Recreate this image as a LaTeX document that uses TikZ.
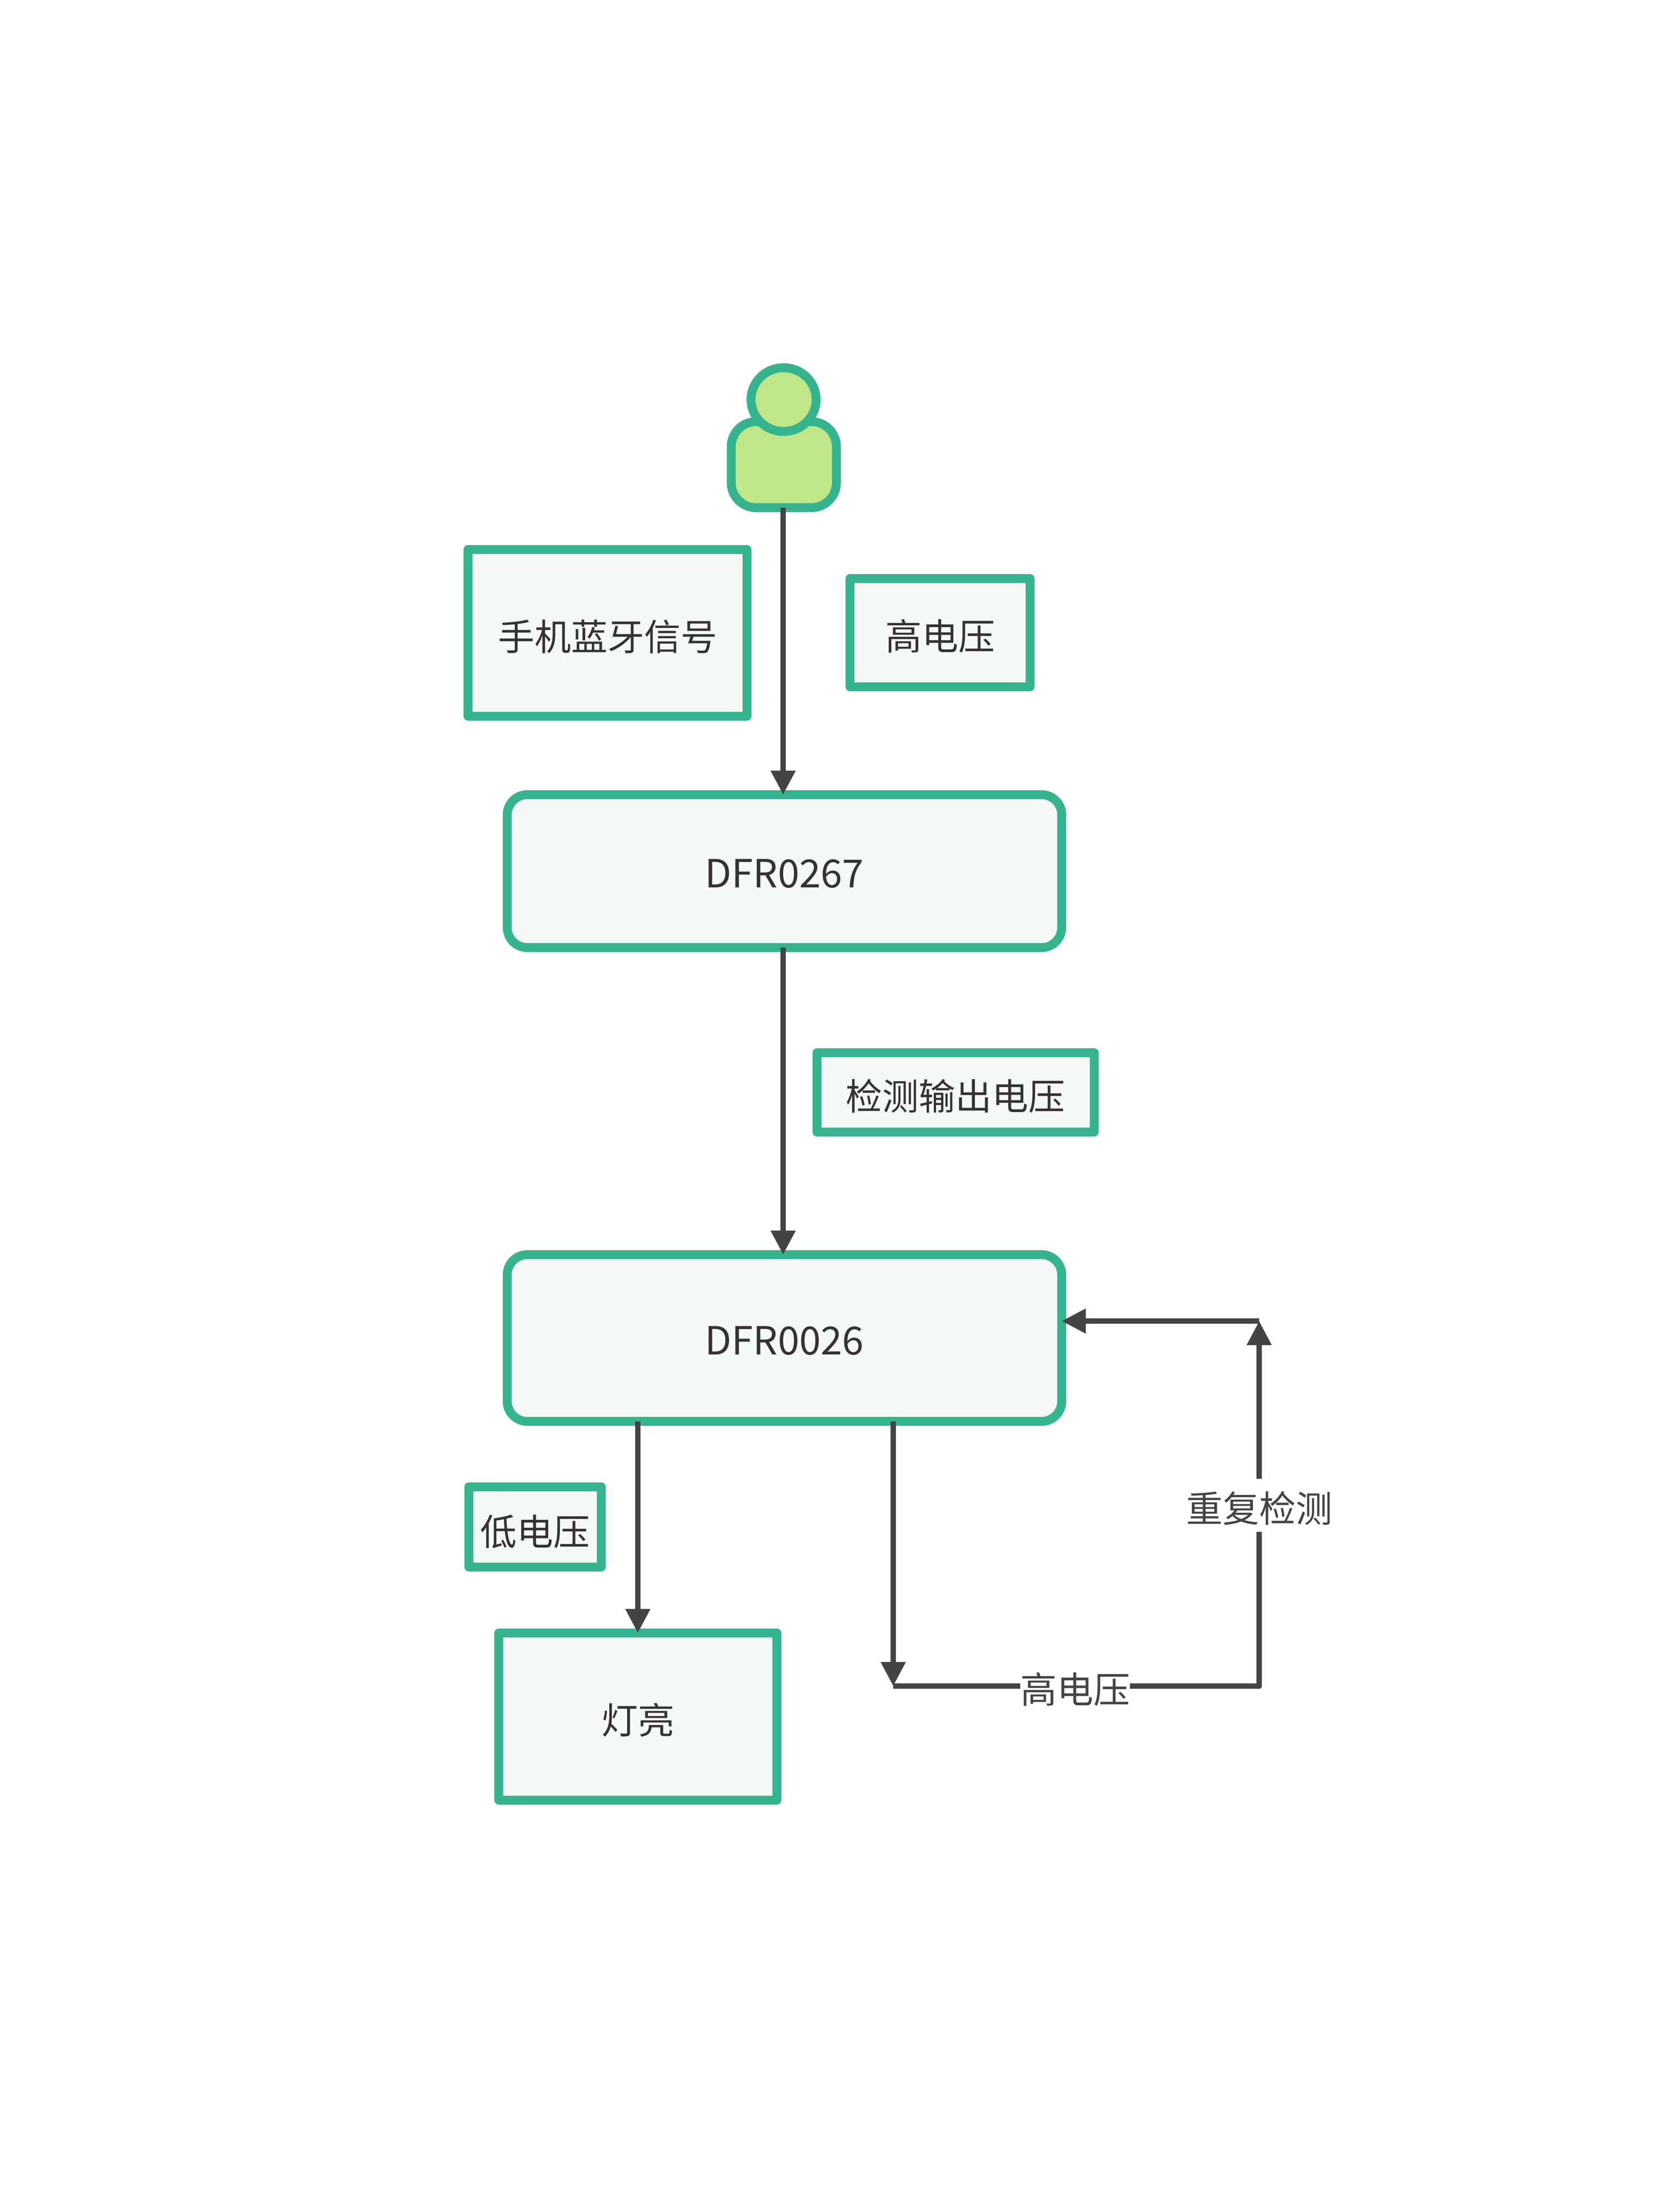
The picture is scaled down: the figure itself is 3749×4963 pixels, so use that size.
\documentclass[tikz,border=0pt]{standalone}
\usepackage{fontspec}
\setmainfont{Noto Sans CJK SC}
\usetikzlibrary{arrows.meta,calc,shapes.geometric}
\definecolor{grn}{HTML}{36B48F}
\definecolor{boxfill}{HTML}{F4F8F7}
\definecolor{personfill}{HTML}{BFE687}
\definecolor{linec}{HTML}{444444}
\definecolor{txtc}{HTML}{333333}
\newcommand{\lowered}[2][8pt]{\raisebox{-\dimexpr31pt+#1\relax}[0pt][0pt]{#2}}
\tikzset{
  lbl/.style={font=\fontsize{82pt}{90pt}\selectfont,text=txtc,inner sep=0pt,outer sep=0pt},
  sqbox/.style={lbl,draw=grn,fill=boxfill,line width=20pt,line join=round},
  rndbox/.style={lbl,draw=grn,fill=boxfill,line width=20pt,rounded corners=45pt},
  pers/.style={draw=grn,fill=personfill,line width=20pt,outer sep=0pt},
  conn/.style={draw=linec,line width=12pt},
  arr/.style={conn,-{Triangle[width=53pt,length=54pt]}},
  edgelbl/.style={font=\fontsize{82pt}{90pt}\selectfont,text=linec,fill=white,inner sep=0pt,outer sep=0pt}
}
\begin{document}
\begin{tikzpicture}[x=1pt,y=-1pt]
\useasboundingbox[fill=white] (0,0) rectangle (3749,4963);
\node[pers,rounded corners=56pt,inner sep=0pt,minimum width=236pt,minimum height=193pt] (body) at (1758.5,1042.5) {};
\node[pers,shape=ellipse,inner sep=0pt,minimum width=146pt,minimum height=143pt] (head) at (1758,896.5) {};
\node[sqbox,minimum width=626pt,minimum height=374pt] (sig) at (1363,1420) {\lowered{手机蓝牙信号}};
\node[sqbox,minimum width=404pt,minimum height=243pt] (hv) at (2109,1419.5) {\lowered{高电压}};
\node[rndbox,minimum width=1244pt,minimum height=343pt] (dfra) at (1760,1954.5) {\lowered[6pt]{\fontsize{87pt}{90pt}\selectfont DFR0267}};
\node[sqbox,minimum width=622pt,minimum height=178pt] (det) at (2143.5,2451) {\lowered{检测输出电压}};
\node[rndbox,minimum width=1244pt,minimum height=374pt] (dfrb) at (1760,3002) {\lowered[6pt]{\fontsize{87pt}{90pt}\selectfont DFR0026}};
\node[sqbox,minimum width=297pt,minimum height=180pt] (low) at (1200.5,3426) {\lowered[10pt]{低电压}};
\node[sqbox,minimum width=624pt,minimum height=375pt] (lamp) at (1431,3851.5) {\lowered{灯亮}};
\coordinate (axis) at (1757,0);
\coordinate (turnA) at (2004,3783);
\coordinate (turnB) at (2825,3783);
\coordinate (turnC) at (2825,2964);
\draw[arr] (body.south -| axis) -- (dfra.north -| axis);
\draw[arr] (dfra.south -| axis) -- (dfrb.north -| axis);
\draw[arr] (dfrb.south -| lamp.north) -- (lamp.north);
\draw[arr] (dfrb.south -| turnA) -- (turnA);
\draw[conn] (turnA) -- node[edgelbl,pos=.497,minimum width=245pt,minimum height=100pt] (lbh) {\lowered[7pt]{高电压}} (turnB);
\draw[arr,line cap=round] (turnB) -- node[edgelbl,pos=.495,minimum height=119pt] (lbr) {\lowered[7pt]{重复检测}} (turnC);
\draw[arr] (turnC) -- (turnC -| dfrb.east);
\end{tikzpicture}
\end{document}
